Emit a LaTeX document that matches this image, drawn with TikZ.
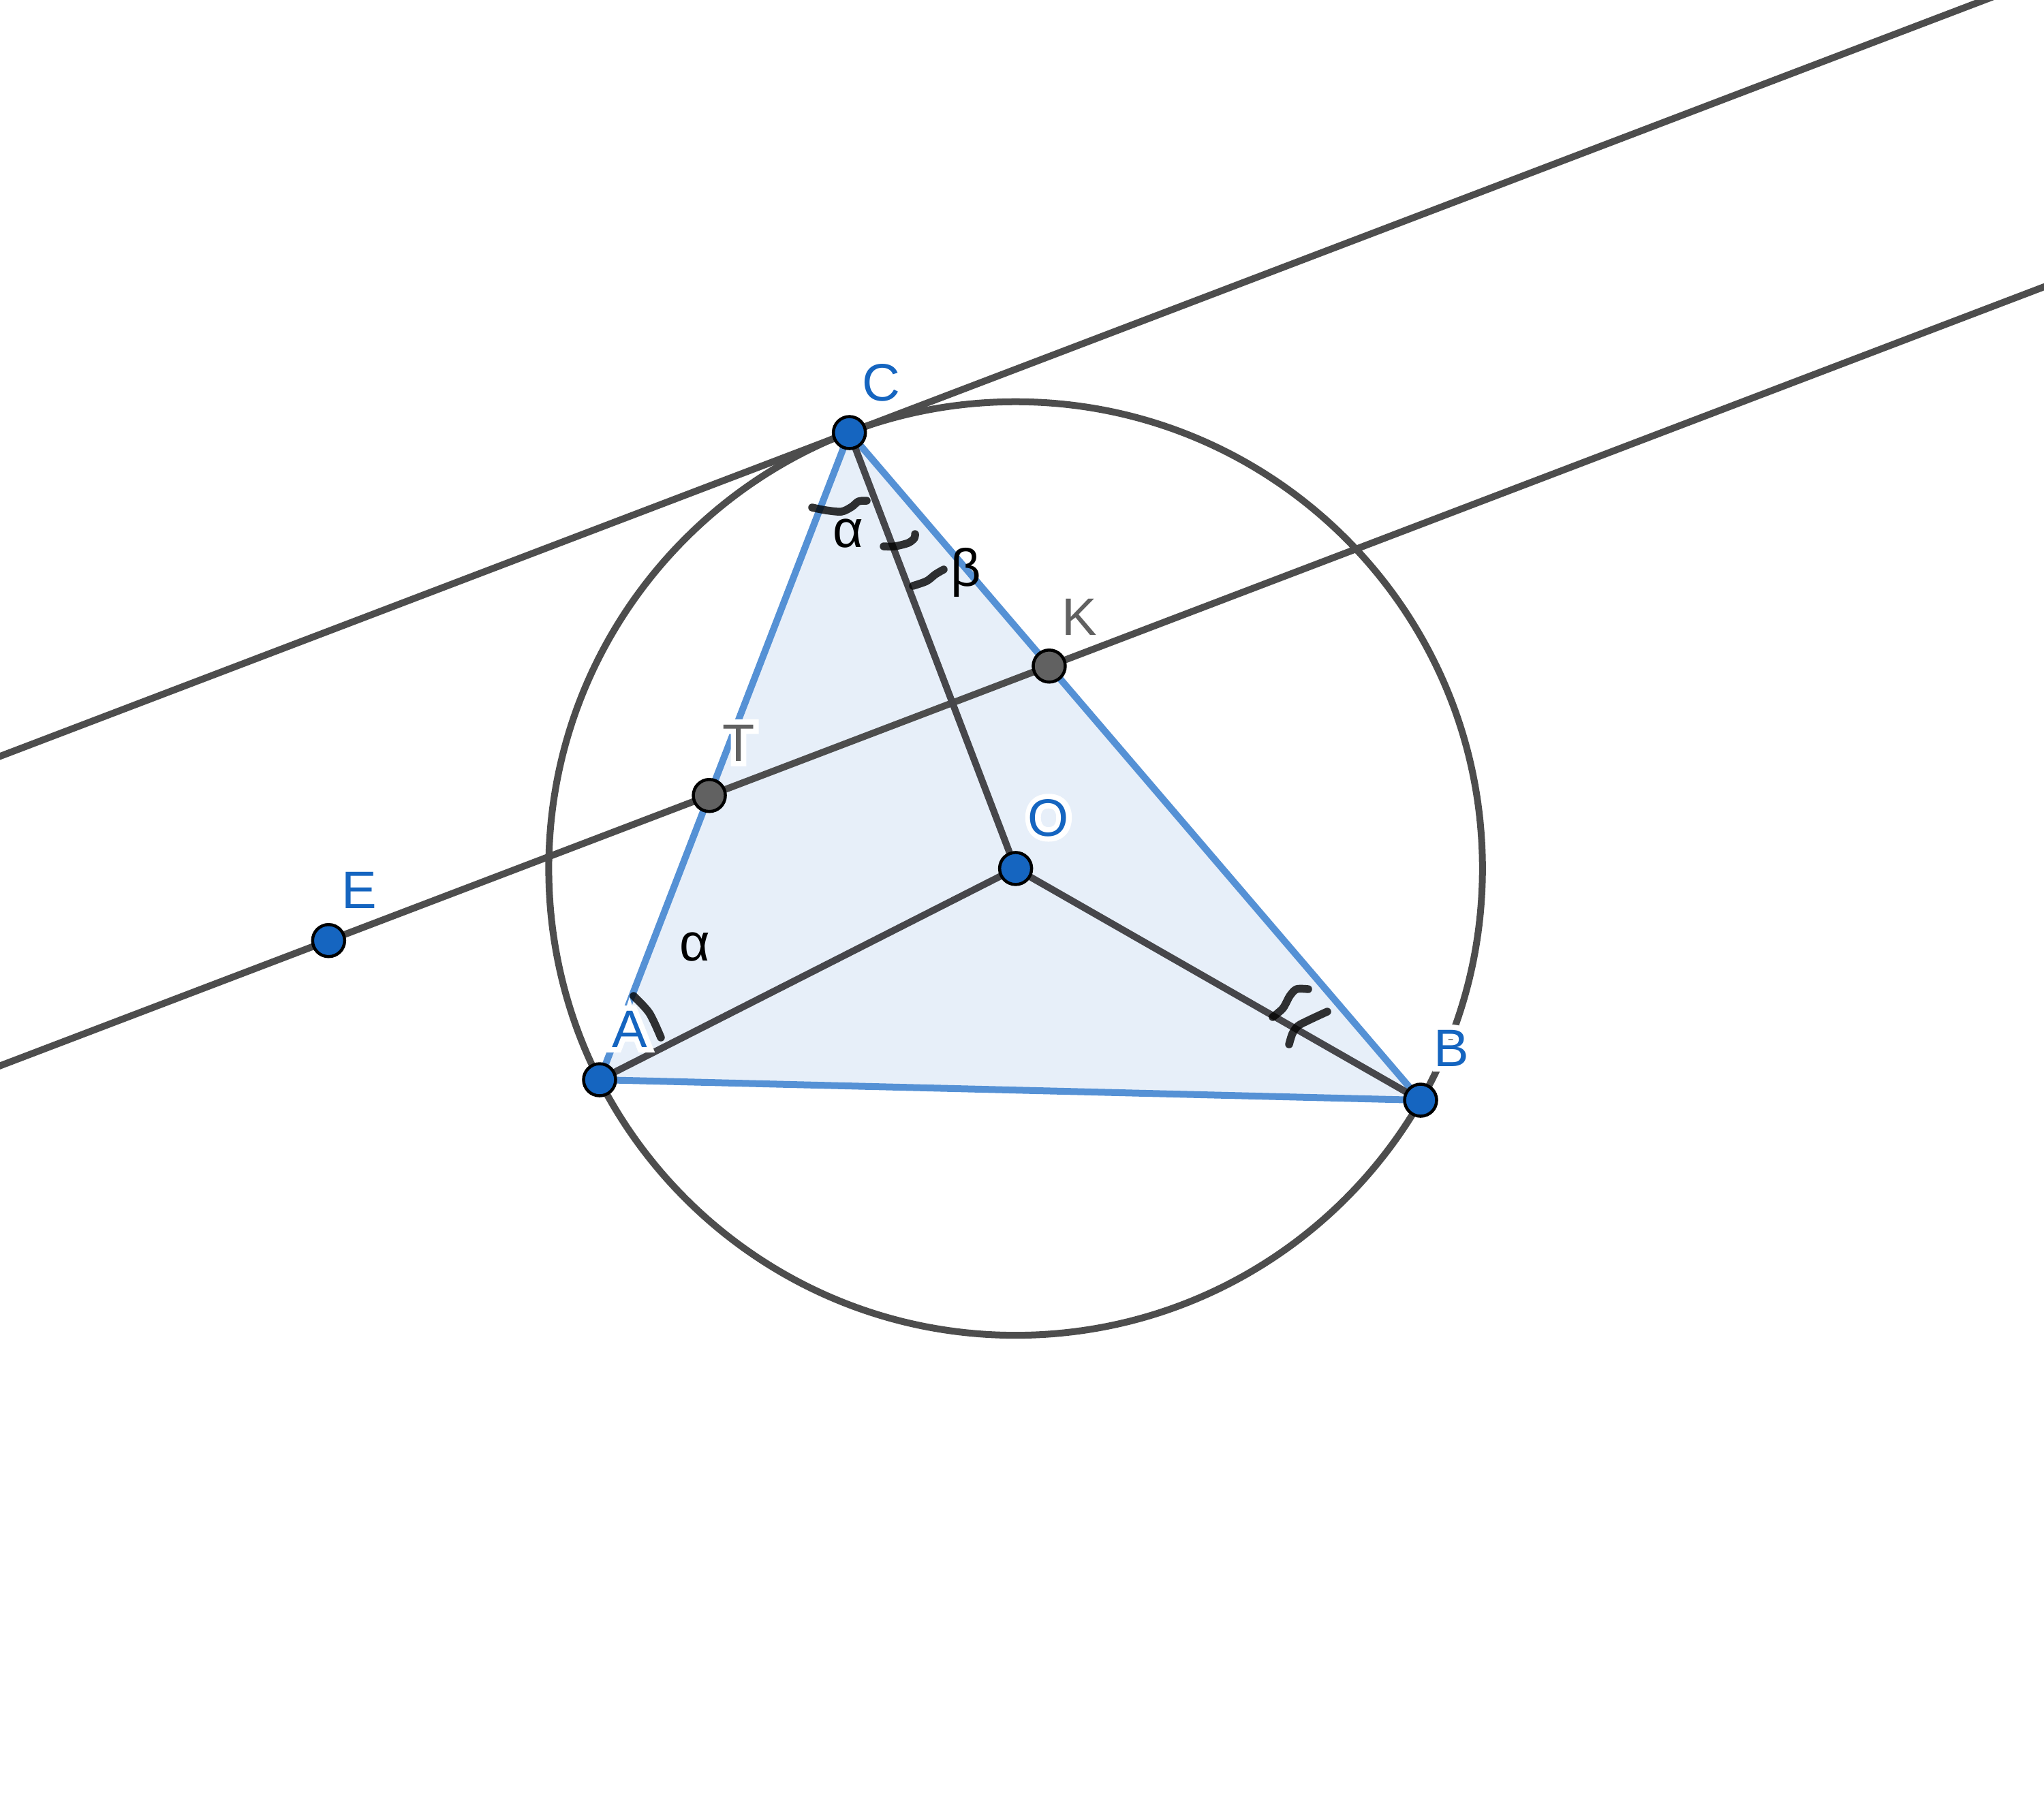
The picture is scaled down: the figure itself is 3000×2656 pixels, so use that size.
\documentclass[tikz,border=0pt]{standalone}
\usepackage{fontspec}
\setmainfont{Liberation Sans}
\newfontfamily\halofont[FakeBold=20]{Liberation Sans}
\usetikzlibrary{calc}
\definecolor{lineGray}{HTML}{4D4D4D}
\definecolor{segGray}{HTML}{46464A}
\definecolor{triBlue}{HTML}{5591D5}
\definecolor{triFill}{HTML}{E7EFF9}
\definecolor{ptBlue}{HTML}{1565C0}
\definecolor{ptGray}{HTML}{616161}
\newcommand{\halolabel}[2]{\makebox[0pt][c]{\color{white}\halofont #2}\makebox[0pt][c]{\color{#1}#2}}
\begin{document}
\begin{tikzpicture}[x=0.01cm,y=-0.01cm,
  gline/.style={draw=lineGray,line width=0.1cm},
  seg/.style={draw=segGray,line width=0.1cm},
  tri/.style={draw=triBlue,line width=0.1cm,line join=round},
  anglemark/.style={draw=black,draw opacity=0.8,line width=0.115cm,line cap=round,line join=round},
  bpt/.style={circle,fill=ptBlue,draw=black,line width=0.045cm,minimum size=0.47cm,inner sep=0pt},
  gpt/.style={bpt,fill=ptGray},
  lbl/.style={anchor=base,font=\fontsize{22}{26}\selectfont,inner sep=0pt},
]
\useasboundingbox (0,0) rectangle (3000,2656);
\clip (0,0) rectangle (3000,2656);
\coordinate (O) at (1490.6,1274.9);
\coordinate (A) at (880,1585);
\coordinate (B) at (2085,1615);
\coordinate (C) at (1246.7,635);
\coordinate (Cd) at ($(C)+(639.9,-243.9)$);
\coordinate (E) at (482.3,1380.7);
\coordinate (Ed) at ($(E)+(639.9,-243.9)$);
\coordinate (T) at (intersection of E--Ed and A--C);
\coordinate (K) at (intersection of E--Ed and B--C);
% triangle
\fill[triFill] (A)--(B)--(C)--cycle;
\draw[tri] (A)--(B)--(C)--cycle;
% circle and lines
\draw[gline] (O) circle[radius=6.848cm];
\draw[gline] ($(C)!-3!(Cd)$) -- ($(C)!4!(Cd)$);
\draw[gline] ($(E)!-2!(Ed)$) -- ($(E)!5!(Ed)$);
\draw[seg] (O)--(A);
\draw[seg] (O)--(B);
\draw[seg] (O)--(C);
% angle marks
\draw[anglemark] plot[smooth] coordinates {(1192,745) (1212,749) (1235,751) (1250,744) (1260,736) (1272,735)};
\draw[anglemark] plot[smooth] coordinates {(1297,802) (1313,802) (1333,797) (1342,790) (1343,784)};
\draw[anglemark] plot[smooth] coordinates {(1340,860) (1360,853) (1373,843) (1385,836)};
\draw[anglemark] plot[smooth] coordinates {(1868,1493) (1883,1480) (1893,1462) (1903,1452) (1920,1452)};
\draw[anglemark] plot[smooth] coordinates {(1892,1533) (1897,1517) (1905,1506) (1920,1498) (1937,1490) (1948,1485)};
\draw[anglemark] plot[smooth] coordinates {(930,1462) (953,1487) (970,1523)};
% points
\node[bpt] (pE) at (E) {};
\node[gpt] (pT) at (T) {};
\node[gpt] (pK) at (K) {};
\node[bpt] (pO) at (O) {};
\node[bpt] (pA) at (A) {};
\node[bpt] (pB) at (B) {};
\node[bpt] (pC) at (C) {};
% labels
\node[lbl] (lC) at (1293,588) {\halolabel{ptBlue}{C}};
\node[lbl] (lA) at (924,1537) {\halolabel{ptBlue}{A}};
\node[lbl] (lB) at (2130,1565) {\halolabel{ptBlue}{B}};
\node[lbl] (lO) at (1539,1227) {\halolabel{ptBlue}{O}};
\node[lbl] (lE) at (527,1333) {\halolabel{ptBlue}{E}};
\node[lbl] (lT) at (1084,1117) {\halolabel{ptGray}{T}};
\node[lbl] (lK) at (1584,932) {\halolabel{ptGray}{K}};
\node[lbl] (la1) at (1245,803) {α};
\node[lbl] (lb) at (1417.5,860) {β};
\node[lbl] (la2) at (1020,1410) {α};
\end{tikzpicture}
\end{document}
